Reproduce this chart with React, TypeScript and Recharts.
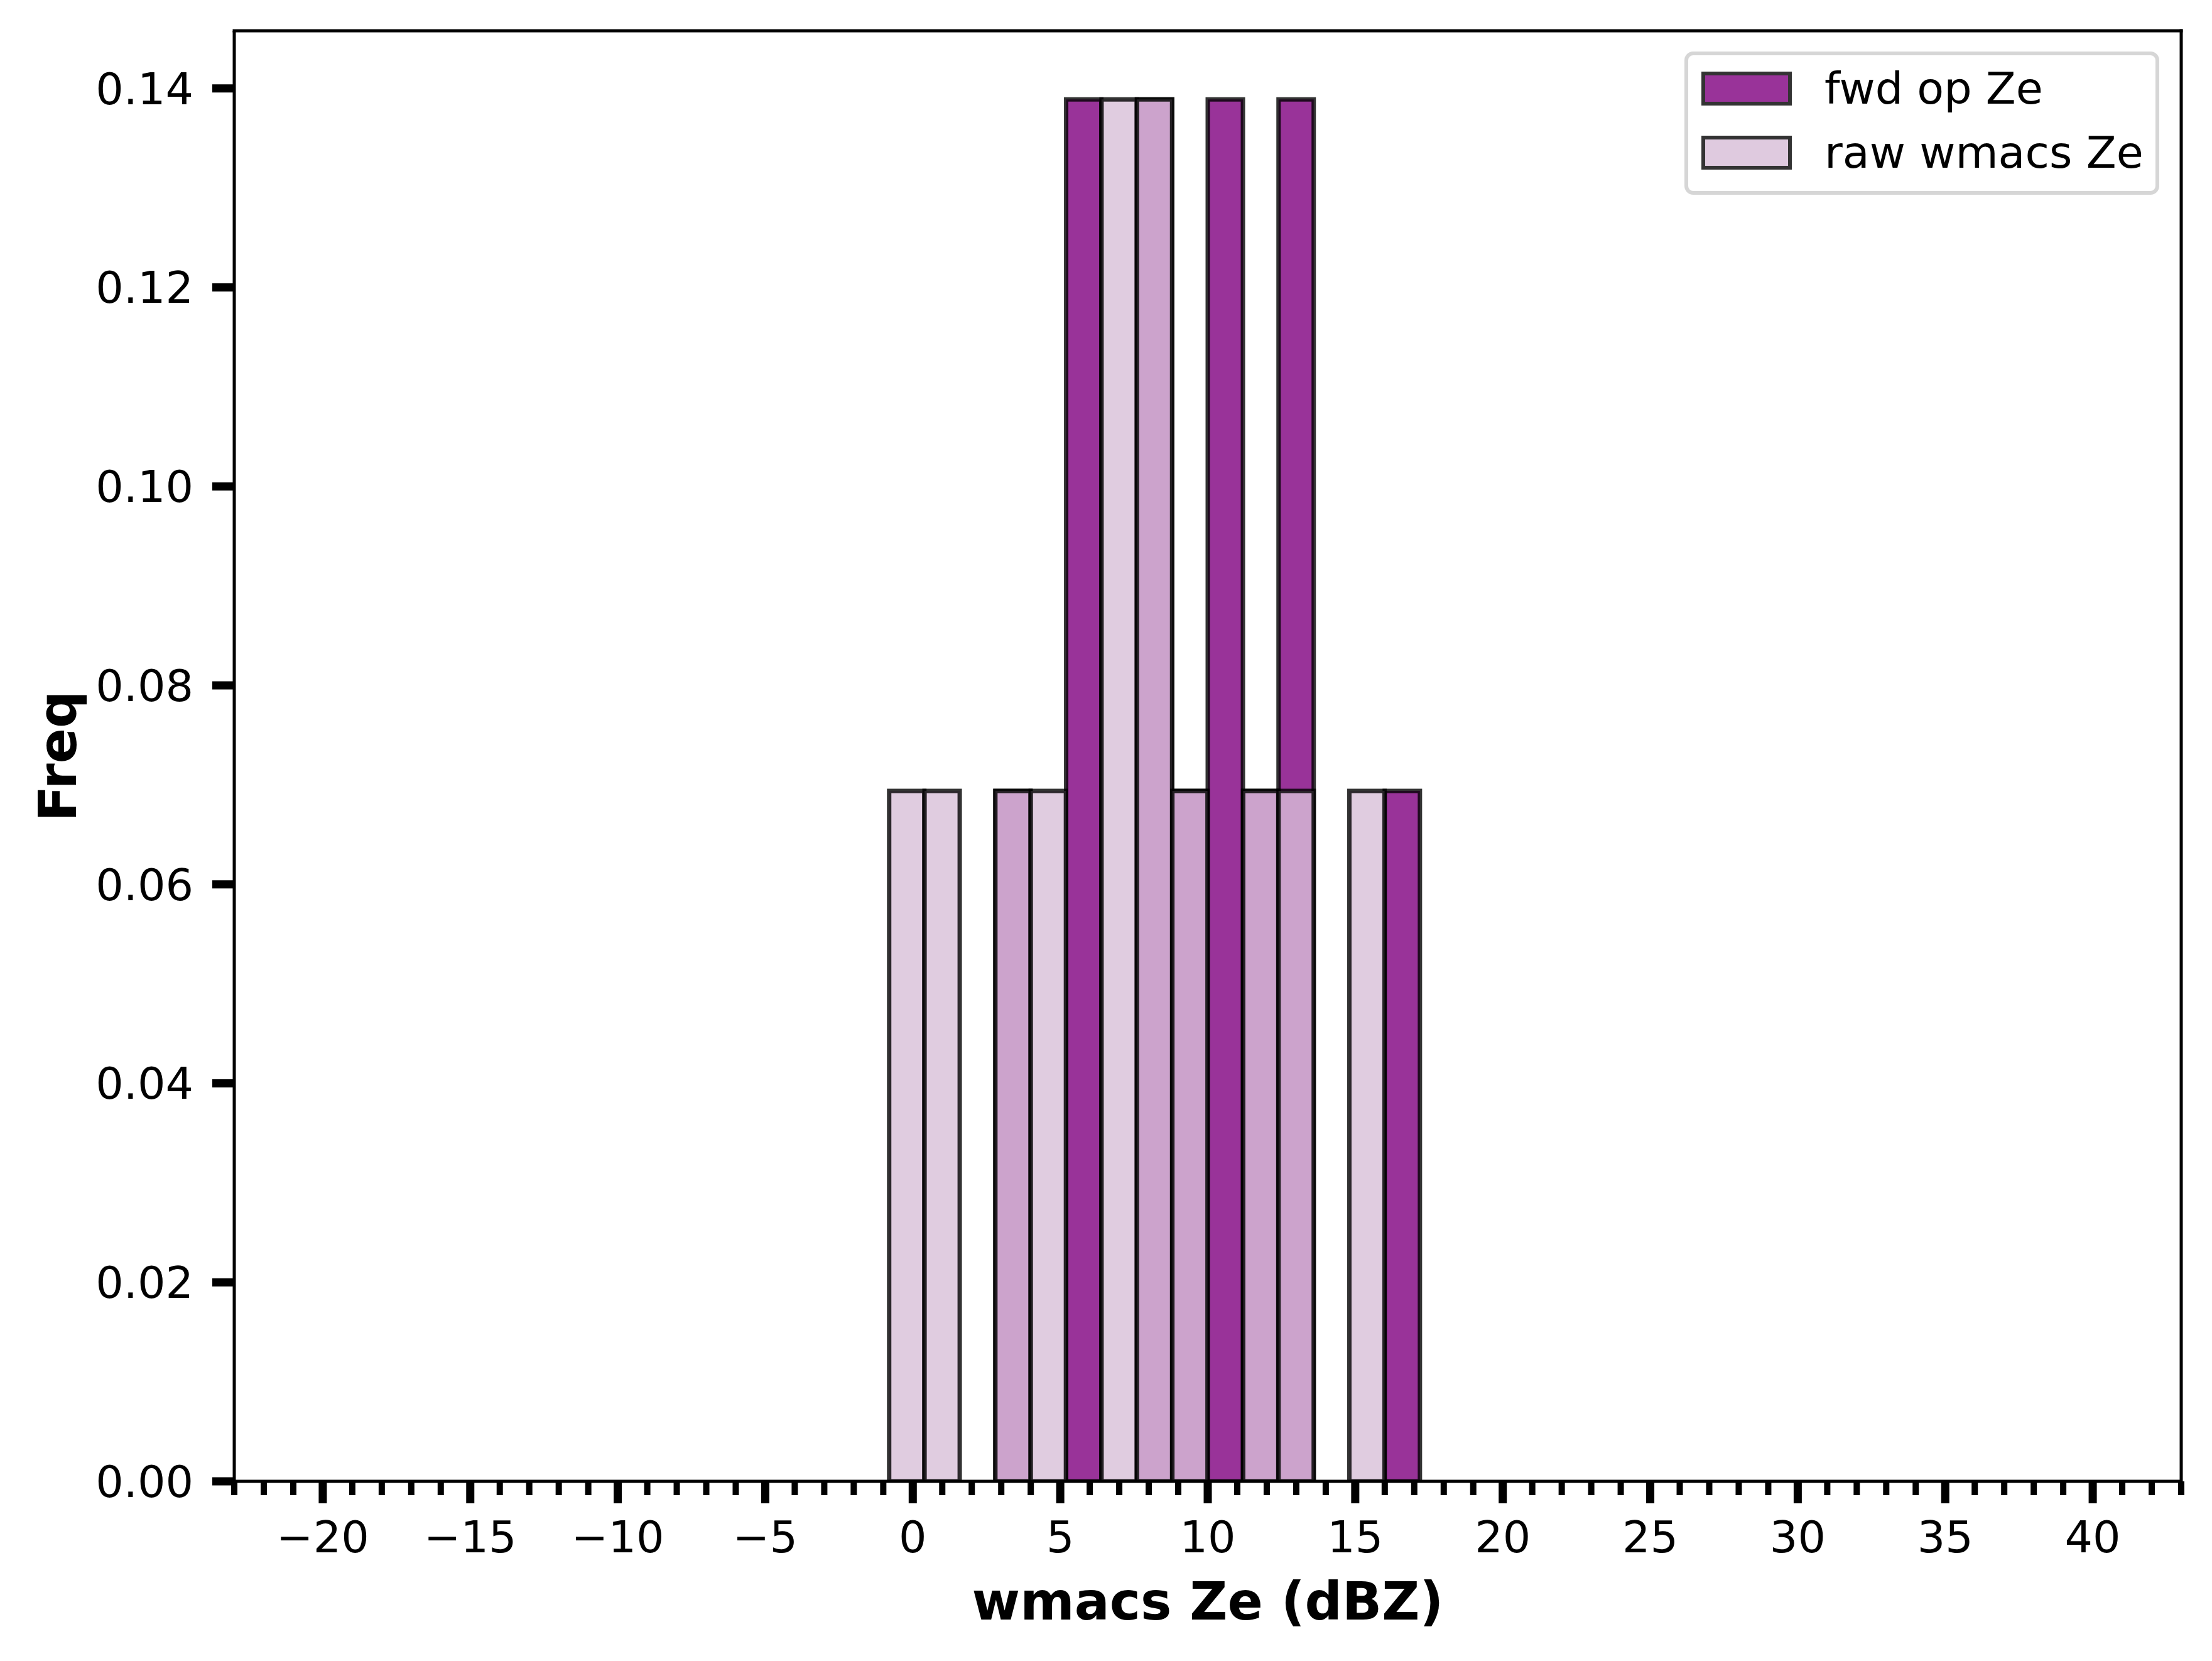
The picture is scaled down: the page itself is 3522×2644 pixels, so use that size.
import React from 'react';
import { BarChart, Bar, XAxis, YAxis, ReferenceLine, Legend } from 'recharts';

// histogram bins (width 1.2 dBZ), centres of each bin
const binCenters = [-0.2, 1.0, 2.2, 3.4, 4.6, 5.8, 7.0, 8.2, 9.4, 10.6, 11.8, 13.0, 14.2, 15.4, 16.6];
const fwdFreq = [0, 0, 0, 0.0694, 0, 0.1389, 0, 0.1389, 0.0694, 0.1389, 0.0694, 0.1389, 0, 0, 0.0694];
const rawFreq = [0.0694, 0.0694, 0, 0.0694, 0.0694, 0, 0.1389, 0.1389, 0.0694, 0, 0.0694, 0.0694, 0, 0.0694, 0];

const seriesNames = ['fwd op Ze', 'raw wmacs Ze'];
const yTicks = [0, 0.02, 0.04, 0.06, 0.08, 0.1, 0.12, 0.14];
const xDomain = [-23, 43];
const yDomain = [0, 0.1458];
// every integer gets a minor tick, multiples of 5 are labelled
const xTicks = Array.from({ length: xDomain[1] - xDomain[0] + 1 }, (_, i) => xDomain[0] + i);

const data = binCenters.map((c, i) => ({ center: c, fwd: fwdFreq[i], raw: rawFreq[i] }));

const legendPatch = ['#993399', '#dfcadf'];

function XTick(props: any) {
  const { x, y, payload } = props;
  const v = payload.value;
  const major = v % 5 === 0;
  const text = v < 0 ? '\u2212' + Math.abs(v) : String(v);
  return (
    <g>
      <line x1={x} x2={x} y1={y} y2={y + (major ? 35 : 22)} stroke="#000" strokeWidth={major ? 13 : 10} />
      {major && (
        <text x={x} y={y + 63} dy="0.71em" textAnchor="middle" fontSize={70} fill="#000">
          {text}
        </text>
      )}
    </g>
  );
}

function XLabel({ viewBox }: any) {
  return (
    <text x={viewBox.x + viewBox.width / 2} y={viewBox.y + 220} textAnchor="middle" fontSize={83} fontWeight="bold" fill="#000">
      wmacs Ze (dBZ)
    </text>
  );
}

function YLabel({ viewBox }: any) {
  const x = viewBox.x + 48;
  const y = viewBox.y + viewBox.height / 2;
  return (
    <text x={x} y={y} transform={`rotate(-90, ${x}, ${y})`} textAnchor="middle" fontSize={83} fontWeight="bold" fill="#000">
      Freq
    </text>
  );
}

function LegendBox({ payload }: any) {
  return (
    <div
      style={{
        position: 'relative',
        width: 756,
        height: 228,
        boxSizing: 'border-box',
        border: '6px solid #d6d6d6',
        borderRadius: 14,
        background: 'rgba(255,255,255,0.8)',
      }}
    >
      {(payload || []).map((entry: any, i: number) => (
        <div
          key={entry.value}
          style={{ position: 'absolute', left: 21, top: 26 + i * 102, height: 54, display: 'flex', alignItems: 'center' }}
        >
          <div
            style={{
              width: 144,
              height: 54,
              boxSizing: 'border-box',
              background: legendPatch[i],
              border: '6px solid #333',
            }}
          />
          <span style={{ marginLeft: 52, fontSize: 70, lineHeight: '54px', color: '#000', whiteSpace: 'nowrap' }}>
            {entry.value}
          </span>
        </div>
      ))}
    </div>
  );
}

export default function App() {
  return (
    <div style={{ position: 'absolute', left: 0, top: 0, width: 3522, height: 2644, background: '#fff', fontFamily: '"DejaVu Sans", sans-serif' }}>
      <BarChart
        width={3522}
        height={2644}
        data={data}
        margin={{ top: 49, right: 49, bottom: 86, left: 73 }}
        barCategoryGap={0}
        barGap={0}
      >
        <XAxis
          xAxisId="main"
          dataKey="center"
          type="number"
          domain={xDomain}
          allowDataOverflow
          ticks={xTicks}
          interval={0}
          tickSize={0}
          tickMargin={0}
          tickLine={false}
          axisLine={{ stroke: '#000', strokeWidth: 5 }}
          height={200}
          tick={<XTick />}
          label={XLabel}
        />
        <XAxis xAxisId="over" dataKey="center" type="number" domain={xDomain} allowDataOverflow hide />
        <YAxis
          type="number"
          domain={yDomain}
          allowDataOverflow
          ticks={yTicks}
          interval={0}
          width={300}
          tickSize={35}
          tickMargin={30}
          tickLine={{ stroke: '#000', strokeWidth: 13 }}
          axisLine={{ stroke: '#000', strokeWidth: 5 }}
          tick={{ fill: '#000', fontSize: 70 }}
          tickFormatter={(v: number) => v.toFixed(2)}
          label={YLabel}
        />
        <Bar
          xAxisId="main"
          dataKey="fwd"
          name={seriesNames[0]}
          fill="#800080"
          fillOpacity={0.8}
          stroke="#000"
          strokeOpacity={0.8}
          strokeWidth={7}
          isAnimationActive={false}
        />
        <Bar
          xAxisId="over"
          dataKey="raw"
          name={seriesNames[1]}
          fill="#d8bfd8"
          fillOpacity={0.8}
          stroke="#000"
          strokeOpacity={0.8}
          strokeWidth={7}
          isAnimationActive={false}
        />
        <ReferenceLine xAxisId="main" y={yDomain[1]} stroke="#000" strokeWidth={5} strokeLinecap="square" />
        <ReferenceLine xAxisId="main" x={xDomain[1]} stroke="#000" strokeWidth={5} strokeLinecap="square" />
        <Legend
          layout="vertical"
          align="center"
          verticalAlign="middle"
          content={<LegendBox />}
          wrapperStyle={{ left: 2682, top: 82, width: 756, height: 228 }}
        />
      </BarChart>
    </div>
  );
}
